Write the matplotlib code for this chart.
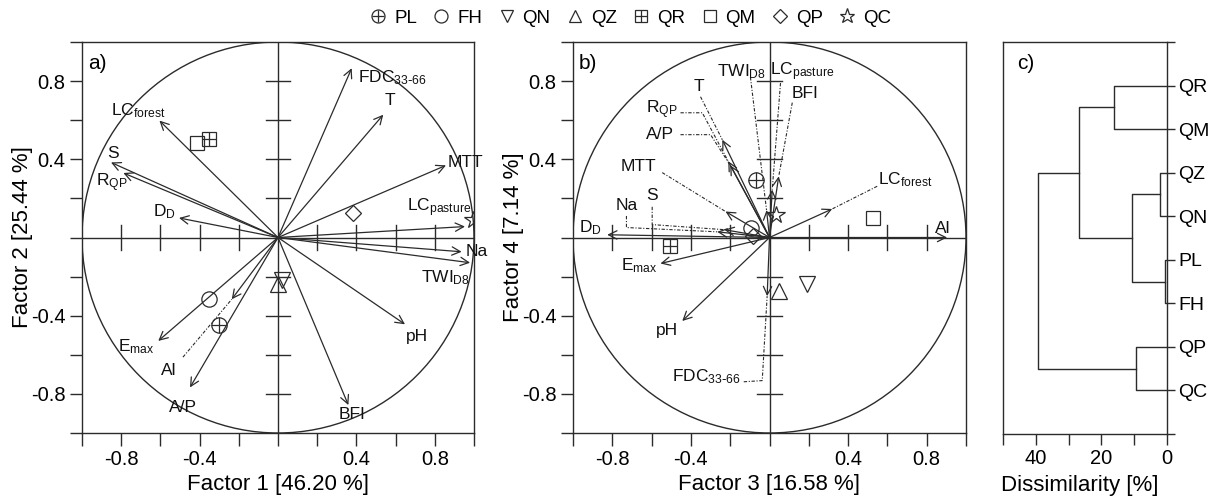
import numpy as np
import matplotlib
matplotlib.use("Agg")
import matplotlib.pyplot as plt
from matplotlib.patches import Circle
from matplotlib.lines import Line2D
from matplotlib.legend_handler import HandlerTuple

plt.rcParams["font.family"] = ["Liberation Sans", "DejaVu Sans"]
plt.rcParams["axes.unicode_minus"] = False
plt.rcParams["mathtext.default"] = "regular"

INK = "#2b2b2b"

# --- data -----------------------------------------------------------------
# sampling sites (factor scores)
sites = ["PL", "FH", "QN", "QZ", "QR", "QM", "QP", "QC"]
f1_site = [-0.30, -0.35, 0.02, 0.00, -0.35, -0.415, 0.385, 0.995]
f2_site = [-0.45, -0.315, -0.215, -0.24, 0.505, 0.485, 0.125, 0.092]
f3_site = [-0.07, -0.095, 0.19, 0.047, -0.505, 0.525, -0.085, 0.031]
f4_site = [0.295, 0.05, -0.24, -0.275, -0.045, 0.10, 0.01, 0.117]

# catchment variables (loadings)
variables = ["FDC", "T", "LCf", "S", "RQP", "DD", "MTT", "LCp",
             "Na", "TWI", "pH", "BFI", "Emax", "AP", "AI"]
var_labels = [r"FDC$_{33\text{-}66}$", "T", r"LC$_{forest}$", "S", r"R$_{QP}$",
              r"D$_D$", "MTT", r"LC$_{pasture}$", "Na", r"TWI$_{D8}$", "pH",
              "BFI", r"E$_{max}$", "A/P", "Al"]
f1_load = [0.376, 0.537, -0.605, -0.852, -0.789, -0.505, 0.857, 0.954,
           0.937, 0.980, 0.648, 0.359, -0.611, -0.449, -0.236]
f2_load = [0.866, 0.628, 0.598, 0.384, 0.330, 0.100, 0.369, 0.056,
           -0.073, -0.129, -0.444, -0.857, -0.529, -0.767, -0.316]
f3_load = [-0.012, -0.24, 0.319, -0.23, -0.21, -0.826, -0.224, 0.014,
           -0.266, -0.015, -0.444, 0.047, -0.555, -0.20, 0.904]
f4_load = [-0.30, 0.50, 0.146, 0.04, 0.39, 0.014, 0.133, 0.245,
           0.029, 0.14, -0.427, 0.313, -0.133, 0.37, 0.0]

# dendrogram (leaves top to bottom, merges as in a linkage table)
leaf_order = ["QR", "QM", "QZ", "QN", "PL", "FH", "QP", "QC"]
link_left = [0, 2, 4, 9, 8, 6, 12]
link_right = [1, 3, 5, 10, 11, 7, 13]
link_height = [16.2, 2.1, 0.6, 10.7, 26.9, 9.5, 39.4]

# --- label placement ------------------------------------------------------
a_text = {
    "FDC": (0.41, 0.82, "left"), "T": (0.57, 0.70, "center"),
    "LCf": (-0.71, 0.65, "center"), "S": (-0.84, 0.43, "center"),
    "RQP": (-0.85, 0.28, "center"), "DD": (-0.58, 0.13, "center"),
    "MTT": (0.955, 0.385, "center"), "LCp": (0.82, 0.15, "center"),
    "Na": (1.015, -0.07, "center"), "TWI": (0.855, -0.205, "center"),
    "pH": (0.71, -0.505, "center"), "BFI": (0.38, -0.905, "center"),
    "Emax": (-0.725, -0.56, "center"), "AP": (-0.485, -0.87, "center"),
    "AI": (-0.56, -0.68, "center"),
}
a_lead = {"AI": [(-0.485, -0.612)]}

b_text = {
    "T": (-0.36, 0.77, "center"), "RQP": (-0.55, 0.655, "center"),
    "AP": (-0.555, 0.526, "center"), "MTT": (-0.667, 0.362, "center"),
    "Na": (-0.728, 0.165, "center"), "S": (-0.597, 0.215, "center"),
    "DD": (-0.91, 0.05, "center"), "LCf": (0.69, 0.296, "center"),
    "AI": (0.88, 0.045, "center"), "TWI": (-0.14, 0.85, "center"),
    "LCp": (0.166, 0.85, "center"), "BFI": (0.183, 0.738, "center"),
    "Emax": (-0.665, -0.146, "center"), "pH": (-0.524, -0.478, "center"),
    "FDC": (-0.32, -0.71, "center"),
}
b_lead = {
    "T": [(-0.351, 0.72)],
    "RQP": [(-0.453, 0.638), (-0.342, 0.638)],
    "AP": [(-0.453, 0.526), (-0.30, 0.526)],
    "MTT": [(-0.546, 0.332)],
    "Na": [(-0.728, 0.11), (-0.728, 0.051)],
    "S": [(-0.597, 0.157), (-0.597, 0.066)],
    "LCf": [(0.548, 0.262)],
    "TWI": [(-0.097, 0.82)],
    "LCp": [(0.056, 0.79)],
    "BFI": [(0.116, 0.69)],
    "FDC": [(-0.131, -0.738), (-0.037, -0.732)],
}

site_style = {
    "PL": [("o", 11), ("+", 11)], "FH": [("o", 11)], "QN": [("v", 11)],
    "QZ": [("^", 11)], "QR": [("s", 10.5), ("+", 10.5)], "QM": [("s", 10.5)],
    "QP": [("D", 8)], "QC": [("*", 13)],
}


def site_handles(name, ms_scale=1.0):
    return tuple(Line2D([], [], ls="none", marker=m, ms=s * ms_scale, mfc="none",
                        mec=INK, mew=0.9) for m, s in site_style[name])


def biplot(ax, lx, ly, sx, sy, texts, leads, xlabel, ylabel, tag):
    ax.set_xlim(-1, 1)
    ax.set_ylim(-1, 1)
    ax.add_patch(Circle((0, 0), 1, fill=False, ec=INK, lw=1.0))
    ax.axhline(0, color=INK, lw=1.0)
    ax.axvline(0, color=INK, lw=1.0)
    for t in [-0.8, -0.6, -0.4, -0.2, 0.2, 0.4, 0.6, 0.8]:
        ax.plot([t, t], [-0.063, 0.063], color=INK, lw=1.0)
        ax.plot([-0.063, 0.063], [t, t], color=INK, lw=1.0)
    for i, v in enumerate(variables):
        ax.annotate("", xy=(lx[i], ly[i]), xytext=(0, 0),
                    arrowprops=dict(arrowstyle="->", color=INK, lw=0.9,
                                    mutation_scale=15, shrinkA=0, shrinkB=0))
        tx, ty, ha = texts[v]
        ax.text(tx, ty, var_labels[i], fontsize=12.5, ha=ha, va="center",
                color="#111111")
        if v in leads:
            pts = leads[v] + [(lx[i], ly[i])]
            ax.plot([p[0] for p in pts], [p[1] for p in pts], color=INK,
                    lw=0.8, ls=(0, (3, 1.5, 1, 1.5)))
    for i, s in enumerate(sites):
        for h in site_handles(s):
            ax.plot(sx[i], sy[i], ls="none", marker=h.get_marker(),
                    ms=h.get_markersize(), mfc="none", mec=INK, mew=0.9)
    ticks = np.round(np.arange(-1, 1.01, 0.2), 1)
    labs = ["-0.8", "-0.4", "0", "0.4", "0.8"]
    tl = [("%g" % t if ("%g" % t) in labs else "") for t in ticks]
    ax.set_xticks(ticks)
    ax.set_xticklabels(tl)
    ax.set_yticks(ticks)
    ax.set_yticklabels(tl)
    ax.tick_params(direction="out", length=9, width=1.0, color=INK,
                   labelsize=14.5, pad=3)
    for sp in ax.spines.values():
        sp.set_color(INK)
        sp.set_linewidth(1.0)
    ax.set_xlabel(xlabel, fontsize=16)
    ax.set_ylabel(ylabel, fontsize=16)
    ax.xaxis.set_label_coords(0.5, -0.105)
    ax.yaxis.set_label_coords(-0.125, 0.5)
    ax.text(0.015, 0.944, tag, transform=ax.transAxes, fontsize=15,
            ha="left", va="center")


fig = plt.figure(figsize=(12.22, 5.04), dpi=100)
ax_a = fig.add_axes([82 / 1222, 71 / 504, 392 / 1222, 391 / 504])
ax_b = fig.add_axes([573 / 1222, 71 / 504, 393 / 1222, 391 / 504])
ax_c = fig.add_axes([1003 / 1222, 70 / 504, 164 / 1222, 392 / 504])

biplot(ax_a, f1_load, f2_load, f1_site, f2_site, a_text, a_lead,
       "Factor 1 [46.20 %]", "Factor 2 [25.44 %]", "a)")
biplot(ax_b, f3_load, f4_load, f3_site, f4_site, b_text, b_lead,
       "Factor 3 [16.58 %]", "Factor 4 [7.14 %]", "b)")

# dendrogram
node_y = list(range(1, len(leaf_order) + 1))
node_h = [0.0] * len(leaf_order)
for l, r, h in zip(link_left, link_right, link_height):
    yl, yr = node_y[l], node_y[r]
    ax_c.plot([node_h[l], h, h, node_h[r]], [yl, yl, yr, yr], color=INK, lw=1.0)
    node_y.append((yl + yr) / 2)
    node_h.append(h)
ax_c.set_xlim(50, 0)
ax_c.set_ylim(len(leaf_order) + 1, 0)
ax_c.set_xticks([50, 40, 30, 20, 10, 0])
ax_c.set_xticklabels(["", "40", "", "20", "", "0"])
ax_c.set_yticks(range(0, len(leaf_order) + 2))
ax_c.set_yticklabels([""] + leaf_order + [""])
ax_c.yaxis.tick_right()
ax_c.tick_params(axis="x", direction="out", length=8, width=1.0, color=INK,
                 labelsize=14.5, pad=3)
ax_c.tick_params(axis="y", direction="out", length=6, width=1.0, color=INK,
                 labelsize=14, pad=2)
for sp in ax_c.spines.values():
    sp.set_color(INK)
    sp.set_linewidth(1.0)
ax_c.set_xlabel("Dissimilarity [%]", fontsize=16)
ax_c.xaxis.set_label_coords(0.47, -0.105)
ax_c.text(0.085, 0.946, "c)", transform=ax_c.transAxes, fontsize=15,
          ha="left", va="center")

# legend across the top (tuple handles overlay, e.g. circle + plus)
fig.legend([site_handles(s, 0.85) for s in sites], sites, loc="center",
           bbox_to_anchor=(630 / 1222, 1 - 18 / 504), ncol=8, frameon=False,
           fontsize=13.5, handlelength=1.0, handletextpad=0.35, columnspacing=0.8,
           handler_map={tuple: HandlerTuple(ndivide=1, pad=0)})

fig.savefig("out.png", dpi=100)
